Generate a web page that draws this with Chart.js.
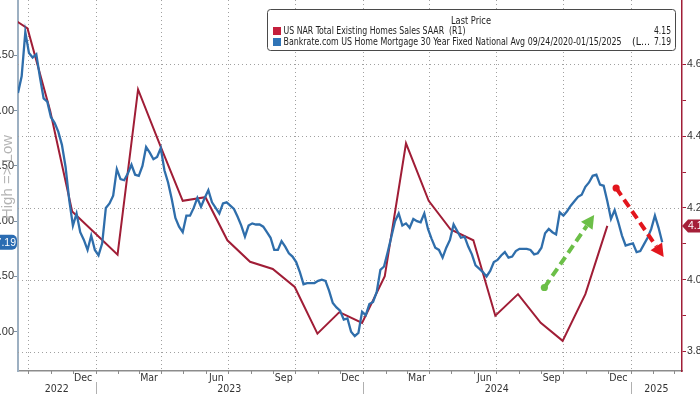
<!DOCTYPE html>
<html><head><meta charset="utf-8">
<script src="https://cdn.jsdelivr.net/npm/chart.js@4.4.1/dist/chart.umd.min.js"></script>
<style>html,body{margin:0;padding:0;background:#fff;overflow:hidden}#wrap{width:700px;height:394px;position:relative}</style>
</head><body><div id="wrap"><canvas id="c" width="700" height="394"></canvas></div>
<script>
// ---------- data ----------
const salesDates = ['2022-08-31','2022-09-30','2022-10-31','2022-11-30','2022-12-31','2023-01-31','2023-02-28','2023-03-31','2023-04-30','2023-05-31','2023-06-30','2023-07-31','2023-08-31','2023-09-30','2023-10-31','2023-11-30','2023-12-31','2024-01-31','2024-02-29','2024-03-31','2024-04-30','2024-05-31','2024-06-30','2024-07-31','2024-08-31','2024-09-30','2024-10-31','2024-11-30'];
const salesValues = [4.74,4.70,4.47,4.19,4.13,4.07,4.53,4.37,4.22,4.23,4.11,4.05,4.03,3.98,3.85,3.91,3.88,4.01,4.38,4.22,4.14,4.11,3.90,3.96,3.88,3.83,3.96,4.15];

const rateStart = '2022-09-17';
const rateStepDays = 5;
const rateValues = [5.84,5.69,5.29,5.48,5.52,5.49,5.70,5.89,5.92,6.06,6.11,6.19,6.31,6.51,6.81,7.04,6.93,7.10,7.17,7.26,
7.13,7.26,7.31,7.20,6.88,6.84,6.77,6.53,6.62,6.63,6.57,6.49,6.58,6.59,6.50,6.33,6.38,6.44,6.42,6.34,
6.54,6.65,6.80,6.97,7.05,7.10,6.95,6.95,6.88,6.79,6.87,6.79,6.72,6.83,6.88,6.93,6.84,6.83,6.86,6.89,
6.96,7.04,7.14,7.04,7.02,7.03,7.03,7.05,7.10,7.15,7.26,7.26,7.18,7.23,7.29,7.32,7.37,7.46,7.57,7.56,
7.56,7.56,7.54,7.53,7.54,7.63,7.74,7.78,7.81,7.89,7.88,8.00,8.04,8.01,7.82,7.85,7.75,7.73,7.64,7.44,
7.41,7.28,7.14,7.00,6.93,7.04,7.02,7.06,6.98,7.00,7.01,6.93,7.07,7.16,7.24,7.26,7.33,7.24,7.17,7.03,
7.09,7.15,7.14,7.23,7.30,7.40,7.43,7.46,7.50,7.45,7.37,7.35,7.31,7.28,7.33,7.32,7.27,7.25,7.25,7.25,
7.26,7.30,7.29,7.24,7.11,7.07,7.10,7.12,6.92,6.95,6.91,6.86,6.82,6.78,6.76,6.69,6.65,6.59,6.58,6.67,
6.68,6.82,6.98,6.90,7.01,7.13,7.22,7.21,7.20,7.28,7.27,7.21,7.15,7.07,6.95,7.06,7.19];

const monthLabels = ['Dec','Mar','Jun','Sep','Dec','Mar','Jun','Sep','Dec'];
const monthLabelDates = ['2022-12-15','2023-03-15','2023-06-15','2023-09-15','2023-12-15','2024-03-15','2024-06-15','2024-09-15','2024-12-15'];
const yearLabels = ['2022','2023','2024','2025'];
const leftTicks = [5.5,6.0,6.5,7.0,7.5,8.0];
const rightTicks = [3.8,3.9,4.0,4.1,4.2,4.3,4.4,4.5,4.6];
const rightGridTicks = [3.8,4.0,4.2,4.4,4.6];

const legendTitle = 'Last Price';
const salesLabel = 'US NAR Total Existing Homes Sales SAAR  (R1)';
const rateLabel = 'Bankrate.com US Home Mortgage 30 Year Fixed National Avg 09/24/2020-01/15/2025';
const rateLabelTail = '(L...';
const axisNote = 'High => Low';

const arrowStarts = [['2024-09-05',7.60],['2024-12-12',6.70]];
const arrowEnds   = [['2024-11-12',6.945],['2025-02-15',7.325]];
const arrowColors = ['#6cbf48','#e2161d'];

const axisStart = '2022-09-17', axisEnd = '2025-03-12';

// ---------- helpers ----------
function day(s){const p=s.split('-').map(Number);return (Date.UTC(p[0],p[1]-1,p[2])-Date.UTC(2023,0,1))/86400000;}
const NARROW = '"Liberation Sans Narrow","DejaVu Sans Condensed","Liberation Sans",sans-serif';
const REG = '"Liberation Sans","DejaVu Sans",sans-serif';
const RED = '#a01d36', BLUE = '#2f6eab';

function fitText(ctx, text, x, y, w){
  const m = ctx.measureText(text).width;
  ctx.save(); ctx.translate(x, y); ctx.scale(w/m, 1); ctx.fillText(text, 0, 0); ctx.restore();
}

const decor = {
  id:'decor',
  beforeDatasetsDraw(chart){
    const {ctx, chartArea:a, scales:{x, yR}} = chart;
    ctx.save();
    ctx.strokeStyle = '#a0a0a0'; ctx.lineWidth = 1; ctx.setLineDash([1,3]);
    rightGridTicks.forEach(v=>{const y=Math.round(yR.getPixelForValue(v))+0.5;ctx.beginPath();ctx.moveTo(a.left,y);ctx.lineTo(a.right,y);ctx.stroke();});
    for(let yy=2022, m=9; yy<2025 || (yy===2025 && m===0); ){
      const d = day(yy+'-'+String(m+1).padStart(2,'0')+'-01');
      const px = Math.round(x.getPixelForValue(d))+0.5;
      ctx.beginPath();ctx.moveTo(px,a.top);ctx.lineTo(px,a.bottom);ctx.stroke();
      m+=3; if(m>11){m-=12;yy++;}
    }
    ctx.setLineDash([]);
    // rotated note
    ctx.fillStyle = '#b4b4b4'; ctx.font = '15px '+REG; ctx.textAlign='center'; ctx.textBaseline='middle';
    ctx.translate(8,177); ctx.rotate(-Math.PI/2); ctx.fillText(axisNote,0,0);
    ctx.restore();
  },
  afterDatasetsDraw(chart){
    const {ctx, chartArea:a, scales:{x, yL, yR}} = chart;
    ctx.save();
    // arrows
    arrowStarts.forEach((s,i)=>{
      const x1=x.getPixelForValue(day(s[0])), y1=yL.getPixelForValue(s[1]);
      const x2=x.getPixelForValue(day(arrowEnds[i][0])), y2=yL.getPixelForValue(arrowEnds[i][1]);
      const dx=x2-x1, dy=y2-y1, L=Math.hypot(dx,dy), ux=dx/L, uy=dy/L, hl=13, hw=7;
      const bx=x2-ux*hl, by=y2-uy*hl;
      ctx.strokeStyle=arrowColors[i]; ctx.fillStyle=arrowColors[i]; ctx.lineWidth=4; ctx.setLineDash([9,5]);
      ctx.beginPath(); ctx.moveTo(x1,y1); ctx.lineTo(bx,by); ctx.stroke(); ctx.setLineDash([]);
      ctx.beginPath(); ctx.arc(x1,y1,3.6,0,Math.PI*2); ctx.fill();
      ctx.beginPath(); ctx.moveTo(x2,y2); ctx.lineTo(bx-uy*hw,by+ux*hw); ctx.lineTo(bx+uy*hw,by-ux*hw); ctx.closePath(); ctx.fill();
    });
    // legend box
    const lx=267.5, ly=9.5, lw=408, lh=41;
    ctx.fillStyle='#fff'; ctx.strokeStyle='#4a4a4a'; ctx.lineWidth=1;
    ctx.beginPath(); ctx.roundRect(lx,ly,lw,lh,3); ctx.fill(); ctx.stroke();
    ctx.fillStyle='#222'; ctx.textBaseline='middle';
    ctx.font='11px '+NARROW; ctx.textAlign='left';
    fitText(ctx, legendTitle, 451, 21, 40);
    ctx.fillStyle='#c41f3c'; ctx.fillRect(273,27,8,8);
    ctx.fillStyle='#2f74b7'; ctx.fillRect(273,38,8,8);
    ctx.fillStyle='#222';
    fitText(ctx, salesLabel, 283.5, 31.5, 182);
    fitText(ctx, rateLabel, 283.5, 42, 338);
    fitText(ctx, rateLabelTail, 632, 42, 18);
    const lastSales = salesValues[salesValues.length-1], lastRate = rateValues[rateValues.length-1];
    const t1 = lastSales.toFixed(2), t2 = lastRate.toFixed(2);
    fitText(ctx, t1, 671-17, 31.5, 17);
    fitText(ctx, t2, 671-17, 42, 17);
    // value tags
    const yb = yL.getPixelForValue(lastRate);
    ctx.fillStyle='#2b6cb2';
    ctx.beginPath(); ctx.roundRect(-6, yb-7.5, 23, 15, 5); ctx.fill();
    ctx.fillStyle='#fff'; ctx.font='10.5px '+REG; ctx.textAlign='right'; ctx.fillText(t2, 16, yb+0.5);
    const yr = yR.getPixelForValue(lastSales);
    ctx.fillStyle='#a51f38';
    ctx.beginPath(); ctx.moveTo(682,yr); ctx.lineTo(688,yr-6.5); ctx.lineTo(702,yr-6.5); ctx.lineTo(702,yr+6.5); ctx.lineTo(688,yr+6.5); ctx.closePath(); ctx.fill();
    ctx.fillStyle='#fff'; ctx.textAlign='left'; ctx.fillText(t1, 688, yr+0.5);
    ctx.restore();
  },
  afterDraw(chart){
    const {ctx, chartArea:a, scales:{x}} = chart;
    ctx.save();
    // month ticks
    ctx.strokeStyle='#8c8c8c'; ctx.lineWidth=1;
    for(let yy=2022, m=9; yy<2025 || (yy===2025 && m<=2); ){
      const px=Math.round(x.getPixelForValue(day(yy+'-'+String(m+1).padStart(2,'0')+'-01')))+0.5;
      ctx.beginPath(); ctx.moveTo(px,a.bottom); ctx.lineTo(px,a.bottom+3); ctx.stroke();
      m++; if(m>11){m=0;yy++;}
    }
    // year separators
    ctx.strokeStyle='#b0b0b0';
    ['2023-01-01','2024-01-01','2025-01-01'].forEach(s=>{const px=Math.round(x.getPixelForValue(day(s)))+0.5;ctx.beginPath();ctx.moveTo(px,a.bottom+11);ctx.lineTo(px,394);ctx.stroke();});
    ctx.fillStyle='#333'; ctx.textAlign='center'; ctx.textBaseline='middle'; ctx.font='10.5px '+NARROW;
    monthLabels.forEach((t,i)=>{ctx.fillText(t, x.getPixelForValue(day(monthLabelDates[i])), a.bottom+7.5);});
    yearLabels.forEach(t=>{
      const y0=Number(t);
      const s=Math.max(day(y0+'-01-01'), x.min), e=Math.min(day((y0+1)+'-01-01'), x.max);
      ctx.fillText(t, (x.getPixelForValue(s)+x.getPixelForValue(e))/2, a.bottom+18);
    });
    ctx.restore();
  }
};

const salesData = salesDates.map((d,i)=>({x:day(d), y:salesValues[i]}));
const rateData = rateValues.map((v,i)=>({x:day(rateStart)+i*rateStepDays, y:v}));

new Chart(document.getElementById('c'), {
  type:'line',
  data:{datasets:[
    {label:rateLabel, data:rateData, yAxisID:'yL', borderColor:BLUE, borderWidth:2.3, pointRadius:0, tension:0, fill:false},
    {label:salesLabel, data:salesData, yAxisID:'yR', borderColor:RED, borderWidth:2, pointRadius:0, tension:0, fill:false}
  ]},
  options:{
    responsive:false, animation:false, events:[], devicePixelRatio:1,
    layout:{padding:0},
    plugins:{legend:{display:false}, tooltip:{enabled:false}},
    scales:{
      x:{type:'linear', min:day(axisStart), max:day(axisEnd), grid:{display:false}, ticks:{display:false},
         border:{display:true, color:'#8c8c8c', width:1.5},
         afterFit(s){s.height=23; s.paddingLeft=0; s.paddingRight=0;}},
      yL:{type:'linear', position:'left', reverse:true, min:5.0, max:8.355,
          afterBuildTicks(s){s.ticks=leftTicks.map(v=>({value:v}));},
          ticks:{autoSkip:false, callback:v=>Number(v).toFixed(2), font:{size:11, family:REG}, color:'#333', padding:0},
          grid:{drawOnChartArea:false, tickLength:4, color:'#7f93a6', lineWidth:1},
          border:{display:true, color:'#9db0c2', width:2},
          afterFit(s){s.width=18; s.paddingTop=0; s.paddingBottom=0;}},
      yR:{type:'linear', position:'right', min:3.746, max:4.779,
          afterBuildTicks(s){s.ticks=rightTicks.map(v=>({value:v}));},
          ticks:{autoSkip:false, callback:v=>(Math.round(v*10)%2===0? Number(v).toFixed(1):''), font:{size:10.5, family:REG}, color:'#333', padding:1},
          grid:{drawOnChartArea:false, tickLength:4, color:RED, lineWidth:1},
          border:{display:true, color:RED, width:1.5},
          afterFit(s){s.width=18; s.paddingTop=0; s.paddingBottom=0;}}
    }
  },
  plugins:[decor]
});
</script></body></html>
